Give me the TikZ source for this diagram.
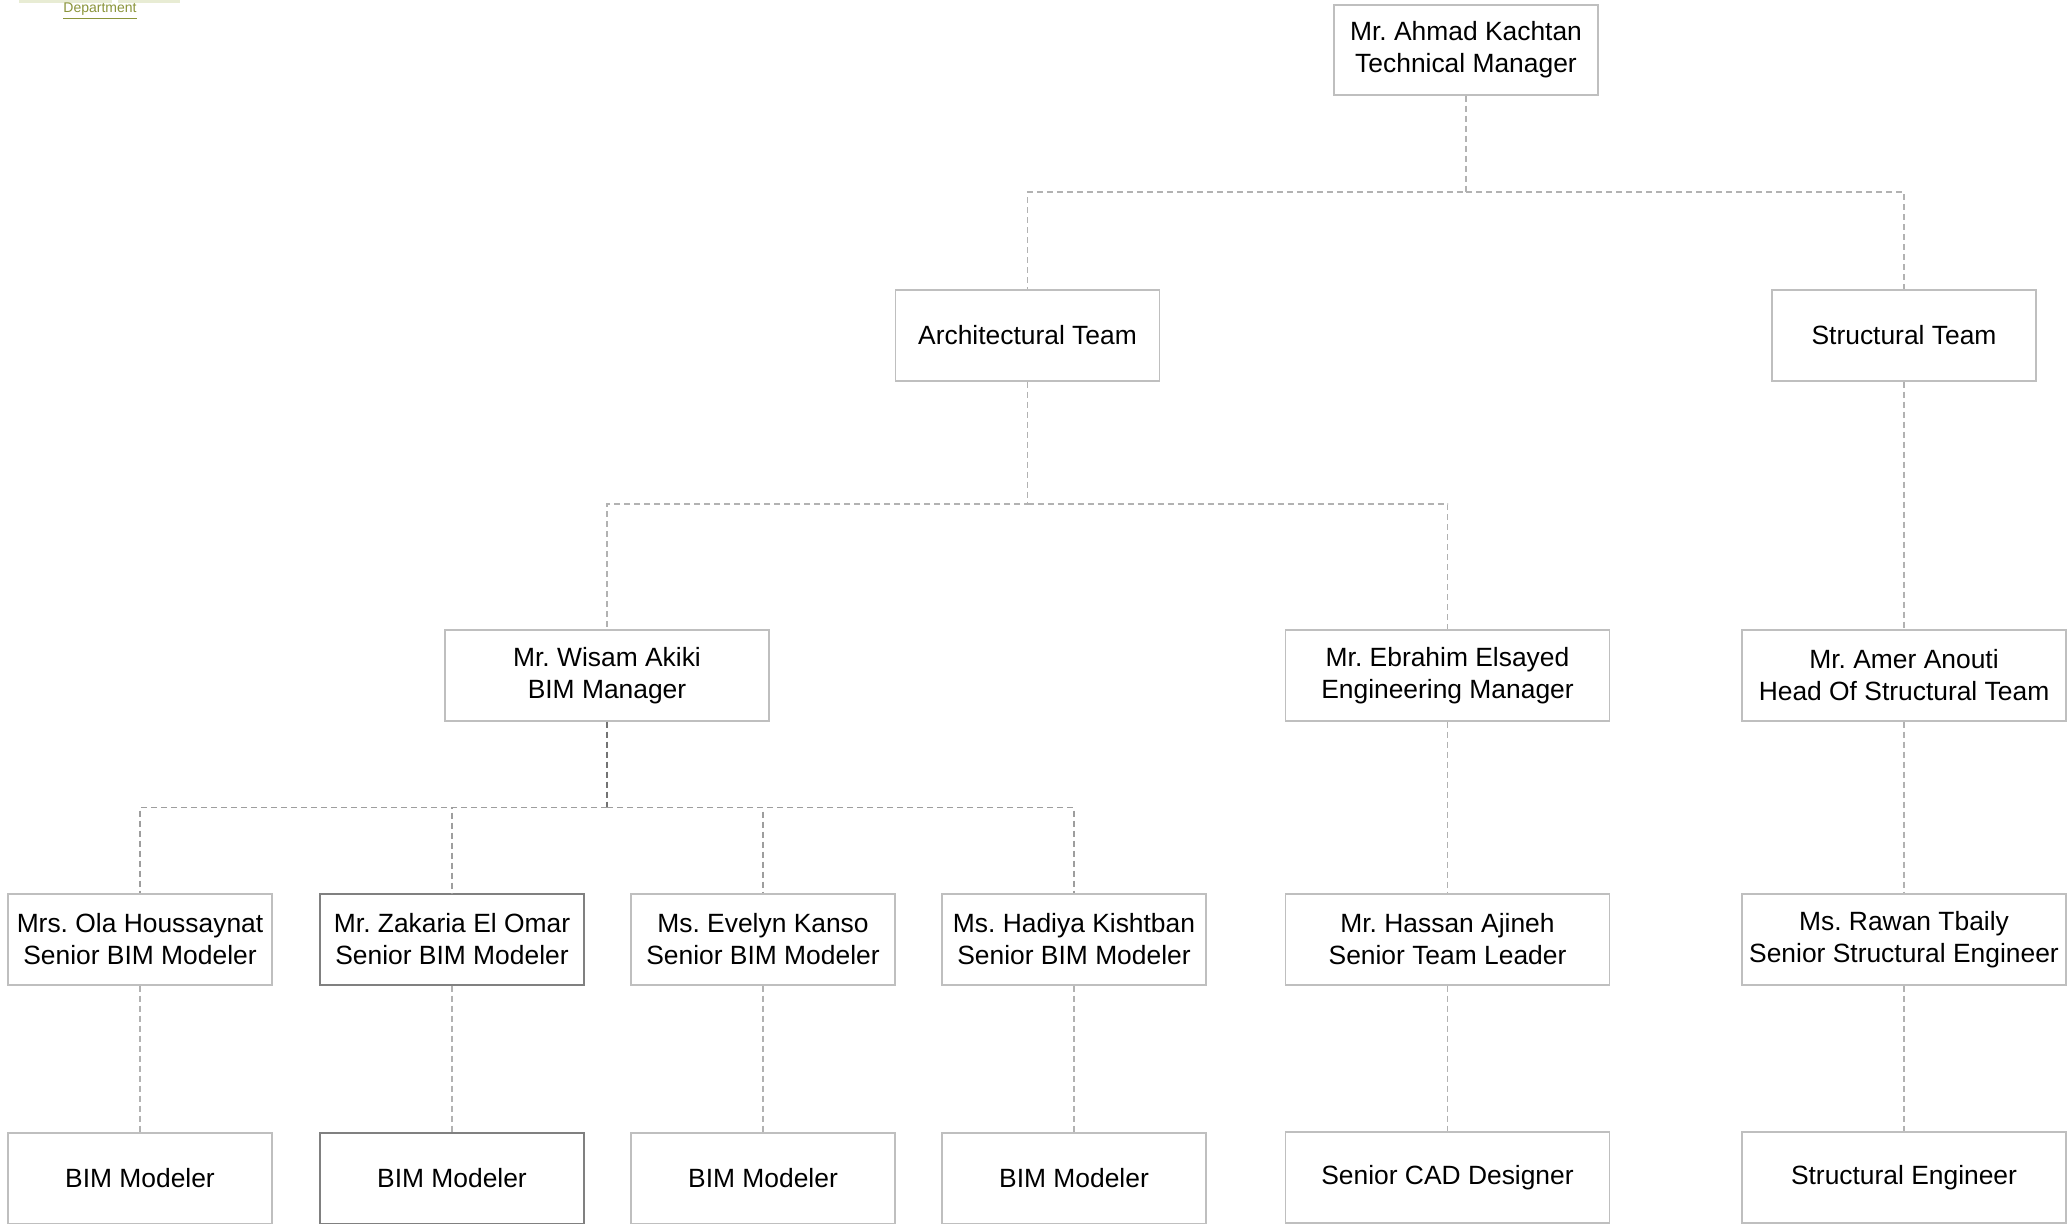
\documentclass[tikz,border=0pt]{standalone}
\usepackage{fontspec}
\setmainfont{Liberation Sans}
\usepackage{tikz}
\usetikzlibrary{positioning}
\frenchspacing

\definecolor{deptolive}{RGB}{138,148,58}
\definecolor{deptpale}{RGB}{232,236,212}

\begin{document}
\begin{tikzpicture}[x=0.5pt, y=-0.5pt,
    font=\fontsize{13.2}{16}\selectfont, align=center,
    member/.style={rectangle, draw=black!25, line width=0.6pt,
        minimum width=132pt, minimum height=45.5pt, inner sep=0pt},
    wide/.style={member, minimum width=162pt},
    marked/.style={member, draw=black!50},
    link/.style={draw=black!30, line width=0.65pt, dash pattern=on 3pt off 2pt}]
    \useasboundingbox (0,0) rectangle (2071,1223);

    % cut-off header
    \fill[deptpale] (19,0) rectangle (112,2.5);
    \fill[deptpale] (118,0) rectangle (180,2.5);
    \node[font=\fontsize{7}{8}\selectfont, text=deptolive] (dept) at (100,11) {\underline{Department}};

    \node[member, minimum height=45pt] (ahmad) at (1466,50) {Mr. Ahmad Kachtan\\Technical Manager};
    \node[member] (arch) at (1027.5,335.5) {Architectural Team};
    \node[member] (strc) at (1904,335.5) {Structural Team};

    \node[wide] (wisam) at (607,675.5) {Mr. Wisam Akiki\\BIM Manager};
    \node[wide] (ebrahim) at (1447.5,675.5) {Mr. Ebrahim Elsayed\\Engineering Manager};
    \node[wide] (amer) at (1904,675.5) {Mr. Amer Anouti\\Head Of Structural Team};

    \node[member] (ola) at (140,939.5) {Mrs. Ola Houssaynat\\Senior BIM Modeler};
    \node[marked] (zakaria) at (452,939.5) {Mr. Zakaria El Omar\\Senior BIM Modeler};
    \node[member] (evelyn) at (763,939.5) {Ms. Evelyn Kanso\\Senior BIM Modeler};
    \node[member] (hadiya) at (1074,939.5) {Ms. Hadiya Kishtban\\Senior BIM Modeler};
    \node[wide] (hassan) at (1447.5,939.5) {Mr. Hassan Ajineh\\Senior Team Leader};
    \node[wide] (rawan) at (1904,939.5) {Ms. Rawan Tbaily\\Senior Structural Engineer};

    \node[member] (bim1) at (140,1178.5) {BIM Modeler};
    \node[marked] (bim2) at (452,1178.5) {BIM Modeler};
    \node[member] (bim3) at (763,1178.5) {BIM Modeler};
    \node[member] (bim4) at (1074,1178.5) {BIM Modeler};
    \node[wide] (cad) at (1447.5,1177.5) {Senior CAD Designer};
    \node[wide] (seng) at (1904,1177.5) {Structural Engineer};

    % tree links
    \draw[link] (ahmad.south) -- ++(0,96.5) -| (arch.north);
    \draw[link] (ahmad.south) ++(0,96.5) -| (strc.north);
    \draw[link] (arch.south) -- ++(0,122.5) -| (wisam.north);
    \draw[link] (arch.south) ++(0,122.5) -| (ebrahim.north);
    \draw[link, draw=black!55] (wisam.south) -- ++(0,86);
    \draw[link, draw=black!38] (wisam.south) ++(0,86) -| (ola.north);
    \draw[link, draw=black!38] (wisam.south) ++(0,86) -| (zakaria.north);
    \draw[link, draw=black!38] (wisam.south) ++(0,86) -| (evelyn.north);
    \draw[link, draw=black!38] (wisam.south) ++(0,86) -| (hadiya.north);

    \path[link] (strc) edge (amer)
                (amer) edge (rawan)
                (rawan) edge (seng)
                (ebrahim) edge (hassan)
                (hassan) edge (cad)
                (ola) edge (bim1)
                (zakaria) edge (bim2)
                (evelyn) edge (bim3)
                (hadiya) edge (bim4);
\end{tikzpicture}
\end{document}
